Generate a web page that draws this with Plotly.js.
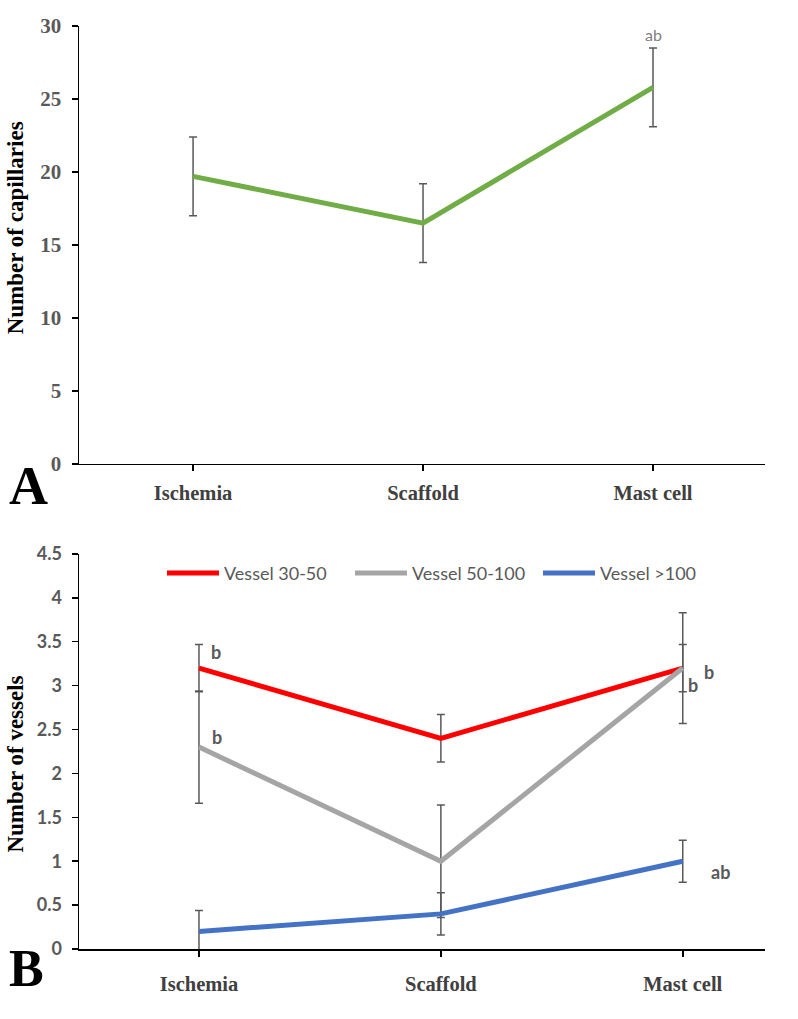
<!DOCTYPE html>
<html>
<head>
<meta charset="utf-8">
<script src="https://cdn.plot.ly/plotly-3.0.1.min.js"></script>
<style>
  html, body { margin: 0; padding: 0; background: #fff; }
  #myDiv { width: 798px; height: 1019px; }
</style>
</head>
<body>
<div id="myDiv"></div>
<script>
var categories = ['Ischemia', 'Scaffold', 'Mast cell'];

// panel A
var capillaries = [19.7, 16.5, 25.8];
var capillariesErr = [2.7, 2.7, 2.7];

// panel B
var vessel30 = [3.2, 2.4, 3.2];
var vessel30Err = [0.27, 0.27, 0.27];
var vessel50 = [2.3, 1.0, 3.2];
var vessel50Err = [0.64, 0.64, 0.63];
var vessel100 = [0.2, 0.4, 1.0];
var vessel100Err = [0.24, 0.24, 0.24];

// significance letters
var sigA = { cat: 'Mast cell', y: 29.45, text: 'ab' };
var sigBCats = ['Ischemia', 'Ischemia', 'Mast cell', 'Mast cell', 'Mast cell'];
var sigBVals = [3.38, 2.42, 3.01, 3.16, 0.88];
var sigBText = ['b', 'b', 'b', 'b', 'ab'];
var sigBShift = [17, 18, 10, 26, 38];

var serif = 'Liberation Serif, Times New Roman, serif';
var sans = 'Lato, Open Sans, sans-serif';

function errs(arr) {
  return { type: 'data', array: arr, visible: true, color: '#595959', thickness: 1.5, width: 4 };
}

var trace1 = {
  x: categories, y: capillaries,
  mode: 'lines', type: 'scatter',
  line: { color: '#70AD47', width: 5 },
  error_y: errs(capillariesErr),
  showlegend: false,
  xaxis: 'x', yaxis: 'y'
};

var trace2 = {
  x: categories, y: vessel30,
  mode: 'lines', type: 'scatter', name: 'Vessel 30-50',
  line: { color: '#FF0000', width: 5 },
  error_y: errs(vessel30Err),
  xaxis: 'x2', yaxis: 'y2'
};

var trace3 = {
  x: categories, y: vessel50,
  mode: 'lines', type: 'scatter', name: 'Vessel 50-100',
  line: { color: '#A5A5A5', width: 5 },
  error_y: errs(vessel50Err),
  xaxis: 'x2', yaxis: 'y2'
};

var trace4 = {
  x: categories, y: vessel100,
  mode: 'lines', type: 'scatter', name: 'Vessel >100',
  line: { color: '#4472C4', width: 5 },
  error_y: errs(vessel100Err),
  xaxis: 'x2', yaxis: 'y2'
};

var data = [trace1, trace2, trace3, trace4];

var titleFont = { family: serif, size: 23, color: '#000', weight: 'bold' };

var annotations = [
  {
    xref: 'x', yref: 'y', x: sigA.cat, y: sigA.y, text: sigA.text, showarrow: false,
    font: { family: sans, size: 16, color: '#7f7f7f' }
  },
  {
    xref: 'paper', yref: 'paper', x: -0.105, y: 0.502, xanchor: 'left', yanchor: 'middle',
    text: 'A', showarrow: false,
    font: { family: serif, size: 54, color: '#000', weight: 'bold' }
  },
  {
    xref: 'paper', yref: 'paper', x: -0.105, y: -0.021, xanchor: 'left', yanchor: 'middle',
    text: 'B', showarrow: false,
    font: { family: serif, size: 52, color: '#000', weight: 'bold' }
  },
  // y-axis titles (sit a little off-centre in the original)
  {
    xref: 'paper', yref: 'paper', x: -0.093, y: 0.781, xanchor: 'center', yanchor: 'middle',
    text: 'Number of capillaries', textangle: -90, showarrow: false, font: titleFont
  },
  {
    xref: 'paper', yref: 'paper', x: -0.093, y: 0.2, xanchor: 'center', yanchor: 'middle',
    text: 'Number of vessels', textangle: -90, showarrow: false, font: titleFont
  }
];

for (var i = 0; i < sigBText.length; i++) {
  annotations.push({
    xref: 'x2', yref: 'y2', x: sigBCats[i], y: sigBVals[i], xshift: sigBShift[i],
    text: sigBText[i], showarrow: false,
    font: { family: sans, size: 18, color: '#595959', weight: 'bold' }
  });
}

var xCommon = {
  type: 'category',
  showline: true, linecolor: '#000', linewidth: 1.5,
  ticks: 'outside', ticklen: 6, tickcolor: '#000', tickwidth: 1.5,
  showgrid: false, zeroline: false,
  tickfont: { family: serif, size: 20.5, color: '#404040', weight: 'bold' }
};

var layout = {
  width: 798, height: 1019,
  margin: { l: 79, r: 33, t: 26, b: 70 },
  paper_bgcolor: '#fff', plot_bgcolor: '#fff',
  showlegend: true,
  xaxis: Object.assign({}, xCommon, { anchor: 'y', range: [-0.496, 2.487], ticklabelstandoff: 4 }),
  yaxis: {
    domain: [0.5255, 1], anchor: 'x', range: [0, 30], dtick: 5,
    showline: true, linecolor: '#000', linewidth: 1.5,
    ticks: 'outside', ticklen: 6, tickcolor: '#000', tickwidth: 1.5,
    showgrid: false, zeroline: false, ticklabelstandoff: 6,
    tickfont: { family: serif, size: 21, color: '#595959', weight: 'bold' }
  },
  xaxis2: Object.assign({}, xCommon, { anchor: 'y2', range: [-0.496, 2.34], ticklabelstandoff: 10 }),
  yaxis2: {
    domain: [0, 0.428], anchor: 'x2', range: [0, 4.5], dtick: 0.5,
    showline: true, linecolor: '#000', linewidth: 1.5,
    ticks: 'outside', ticklen: 6, tickcolor: '#000', tickwidth: 1.5,
    showgrid: false, zeroline: false, ticklabelstandoff: 6,
    tickfont: { family: sans, size: 18, color: '#595959', weight: 'bold' }
  },
  legend: {
    orientation: 'h', x: 0.121, xanchor: 'left', y: 0.407, yanchor: 'middle',
    itemwidth: 52,
    entrywidth: 121, entrywidthmode: 'pixels',
    font: { family: sans, size: 18, color: '#595959' },
    bgcolor: 'rgba(0,0,0,0)'
  },
  annotations: annotations
};

Plotly.newPlot('myDiv', data, layout, { displayModeBar: false, staticPlot: true });
</script>
</body>
</html>
